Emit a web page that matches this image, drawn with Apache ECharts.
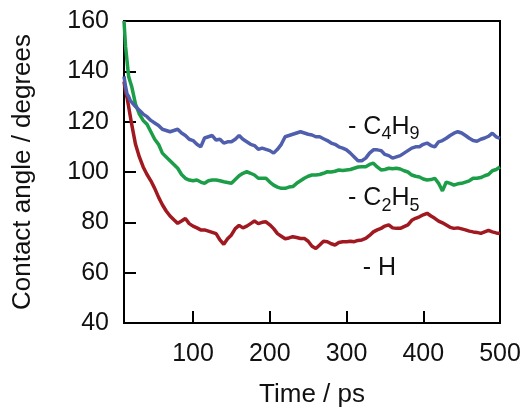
<!DOCTYPE html>
<html>
<head>
<meta charset="utf-8">
<script src="https://cdn.jsdelivr.net/npm/echarts@6/dist/echarts.min.js"></script>
<style>
html,body{margin:0;padding:0;background:#fff;}
#c{width:525px;height:408px;}
</style>
</head>
<body>
<div id="c"></div>
<script>
// Time axis (ps)
var times = [10,12,14,16,18,20,25,30,35,40,45,50,55,60,65,70,75,80,85,90,95,100,105,110,115,120,125,130,135,140,145,150,155,160,165,170,175,180,185,190,195,200,205,210,215,220,225,230,235,240,245,250,255,260,265,270,275,280,285,290,295,300,305,310,315,320,325,330,335,340,345,350,355,360,365,370,375,380,385,390,395,400,405,410,415,420,425,430,435,440,445,450,455,460,465,470,475,480,485,490,495,500];

// - C4H9 (blue)
var c4h9 = [138,134,131,130,128.5,128,126,124.5,123,122,120.5,119.5,118.5,117,116.5,116,116.5,117,115.5,114.5,113,112.5,111,110,113.5,114,114.5,112.7,113,111.5,112,112,113,114.5,113,112,111,110.5,109,109.5,109,108.5,107.5,109,111,114,114.5,115,115.5,116,115.5,115,114.7,114,114,113.2,112.5,111.5,111,110,109.5,108.8,107.5,106,104.5,104.5,105.5,107.5,108.8,108.8,108.5,107,106.5,105.5,106,106.5,107.5,108.5,109.5,110,110,111,111.5,110.5,110,112,112.5,113.4,114.5,115.4,116,115.5,114.5,113.4,112.5,112.2,113,113.5,114.2,115.4,114,113.4];

// - C2H5 (green)
var c2h5 = [160,150,144,138,136,134,127,123,120.5,119,116,113,111,107.5,106,104.5,103,101.5,99,97.5,96.8,96.5,96.8,96,95.5,96.5,96.8,96.8,96.5,96.1,95.8,95.5,97,98.5,99.5,100.1,99.5,98.8,97.5,97.5,97.5,96,94.8,94,93.5,93.5,94,94.2,95.5,96.5,97.5,98.3,98.8,98.8,99,99.5,100.1,100,100.3,100.8,100.6,100.8,101,101.5,102,102.1,102.1,103,103.5,102,100.8,101,101.5,101.3,101.5,101.2,100.5,100,98.8,98.3,98,97.2,96.8,97,97.5,95.5,92.5,96,95.5,94.8,95.3,95.5,96,96.5,97.5,97.5,97.8,98.5,99,100.5,101,102];

// - H (red)
var hSer = [136,132,129.5,126,122.5,119,111,106,102,99,96.5,93.5,90,87,84.5,82.5,81,79.6,80.5,81.5,79.5,78.5,77.8,77,77,76.5,76,75.5,73,71.3,73.5,75,77.5,78.8,77.8,78.5,79.5,80.5,79.5,80,80.2,79,77.5,75.5,74.5,73.5,73.8,74.3,74,73.6,73.6,72.5,70.5,69.6,71,72.5,72.3,71.5,71,72,72.3,72.3,72.5,72.3,72.8,73,73.6,74.8,76.2,77,77.6,78.5,79,77.8,77.6,77.6,78.3,79,80.8,81.6,82.2,83,83.6,82.5,81.6,80.5,79.8,78.9,78,77.6,77.8,77.4,77,76.5,76.2,76,75.6,76.2,76.8,76.2,75.8,75.6];

var xTicks = [100,200,300,400,500];
var yTicks = [40,60,80,100,120,140,160];

// Line annotations: [time, value] of label's left-middle point
var labelC4H9 = [302, 117.9];
var labelC2H5 = [302, 89.6];
var labelH = [321, 61.7];

function pairs(vals){ return times.map(function(t,i){ return [t, vals[i]]; }); }

var FONT = 'Liberation Sans';
var TXT = '#111';

var richStyle = {
  n: {fontSize: 25, fontFamily: FONT, color: TXT, lineHeight: 32},
  s: {fontSize: 18, fontFamily: FONT, color: TXT, lineHeight: 32, padding: [15,0,0,0]}
};

function annot(coord, fmt){
  return {
    symbol: 'circle', symbolSize: 0, silent: true, animation: false,
    data: [{coord: coord,
      label: {show: true, position: 'right', distance: 0, formatter: fmt, rich: richStyle}}]
  };
}

var chart = echarts.init(document.getElementById('c'), null, {renderer: 'canvas'});
chart.setOption({
  animation: false,
  backgroundColor: '#fff',
  grid: {left: 124, top: 21, right: 25, bottom: 85, outerBoundsMode: 'none', containLabel: false,
         show: true, borderColor: '#000', borderWidth: 2, backgroundColor: 'transparent'},
  xAxis: {
    type: 'value', min: 10, max: 500,
    name: 'Time / ps', nameLocation: 'middle', nameGap: 59,
    nameTextStyle: {fontSize: 26, fontFamily: FONT, color: TXT},
    axisLine: {show: true, lineStyle: {color: '#000', width: 2}},
    axisTick: {show: true, inside: true, length: 12, lineStyle: {color: '#000', width: 2}, customValues: xTicks},
    axisLabel: {fontSize: 25, fontFamily: FONT, color: TXT, margin: 19, customValues: xTicks},
    splitLine: {show: false}
  },
  yAxis: {
    type: 'value', min: 40, max: 160, interval: 20,
    name: 'Contact angle / degrees', nameLocation: 'middle', nameGap: 88,
    nameTextStyle: {fontSize: 26, fontFamily: FONT, color: TXT},
    axisLine: {show: true, lineStyle: {color: '#000', width: 2}},
    axisTick: {show: true, inside: true, length: 12, lineStyle: {color: '#000', width: 2}, customValues: yTicks},
    axisLabel: {fontSize: 25, fontFamily: FONT, color: TXT, margin: 15, customValues: yTicks},
    splitLine: {show: false}
  },
  series: [
    {name: 'H', type: 'line', data: pairs(hSer), showSymbol: false, symbol: 'none',
     lineStyle: {color: '#a01820', width: 3.5}, itemStyle: {color: '#a01820'},
     markPoint: annot(labelH, '{n|- H}')},
    {name: 'C2H5', type: 'line', data: pairs(c2h5), showSymbol: false, symbol: 'none',
     lineStyle: {color: '#1c9e48', width: 3.5}, itemStyle: {color: '#1c9e48'},
     markPoint: annot(labelC2H5, '{n|- C}{s|2}{n|H}{s|5}')},
    {name: 'C4H9', type: 'line', data: pairs(c4h9), showSymbol: false, symbol: 'none',
     lineStyle: {color: '#4f5fae', width: 3.5}, itemStyle: {color: '#4f5fae'},
     markPoint: annot(labelC4H9, '{n|- C}{s|4}{n|H}{s|9}')}
  ]
});
</script>
</body>
</html>
